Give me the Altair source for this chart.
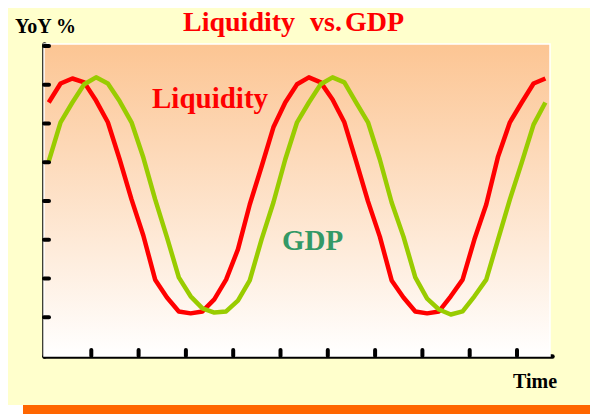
import altair as alt
import pandas as pd

# Time samples (x axis, tick unit = 1)
time = [0.1, 0.35, 0.6, 0.85, 1.1, 1.35, 1.6, 1.85, 2.1, 2.35, 2.6, 2.85, 3.1, 3.35,
        3.6, 3.85, 4.1, 4.35, 4.6, 4.85, 5.1, 5.35, 5.6, 5.85, 6.1, 6.35, 6.6, 6.85,
        7.1, 7.35, 7.6, 7.85, 8.1, 8.35, 8.6, 8.85, 9.1, 9.35, 9.6, 9.85, 10.1, 10.35, 10.6]

liquidity = [6.54, 7.03, 7.16, 7.06, 6.59, 6.03, 5.07, 4.04, 3.11, 1.97, 1.51, 1.15, 1.10, 1.15,
             1.46, 1.97, 2.75, 3.91, 4.89, 5.90, 6.54, 7.01, 7.19, 7.06, 6.62, 6.03, 5.02, 3.99,
             3.08, 1.95, 1.51, 1.15, 1.10, 1.15, 1.54, 1.97, 3.01, 3.91, 5.15, 6.03, 6.54, 7.03, 7.16]

gdp = [5.02, 6.03, 6.54, 7.01, 7.19, 7.03, 6.57, 6.03, 5.12, 4.04, 3.06, 2.03, 1.54, 1.23,
       1.12, 1.15, 1.43, 1.95, 3.01, 3.96, 5.07, 6.03, 6.54, 7.01, 7.19, 7.06, 6.54, 6.03,
       5.07, 3.96, 3.08, 2.03, 1.48, 1.20, 1.07, 1.15, 1.54, 1.97, 3.01, 4.04, 4.99, 5.97, 6.54]

series_names = ["Liquidity", "GDP"]
series_colors = ["#FF0000", "#99CC00"]

x_ticks = [1, 2, 3, 4, 5, 6, 7, 8, 9, 10]
y_ticks = [1, 2, 3, 4, 5, 6, 7, 8]

W, H = 508, 312

n = len(time)
df = pd.DataFrame({
    "t": time + time,
    "v": liquidity + gdp,
    "series": ["Liquidity"] * n + ["GDP"] * n,
})
one = pd.DataFrame({"a": [0]})

x_scale = alt.Scale(domain=[0, 10.74], nice=False, zero=False)
y_scale = alt.Scale(domain=[0, 8.05], nice=False, zero=False)


def ax():
    return alt.Axis(domain=True, domainWidth=4.5, domainColor="black", domainCap="round",
                    ticks=False, labels=False, grid=False, title=None)


bg = alt.Chart(one).mark_rect(
    fill=alt.LinearGradient(
        gradient="linear",
        stops=[alt.GradientStop(color="#FCC593", offset=0),
               alt.GradientStop(color="#FFFFFF", offset=1)],
        x1=0, x2=0, y1=0, y2=1),
    stroke="white", strokeWidth=1.5,
).encode(x=alt.value(0), x2=alt.value(506), y=alt.value(0), y2=alt.value(H))

lines = alt.Chart(df).mark_line(strokeWidth=4.5, strokeJoin="round").encode(
    x=alt.X("t:Q", scale=x_scale, axis=ax()),
    y=alt.Y("v:Q", scale=y_scale, axis=ax()),
    color=alt.Color("series:N", scale=alt.Scale(domain=series_names, range=series_colors), legend=None),
)

yt = alt.Chart(pd.DataFrame({"yt": y_ticks})).mark_rule(
    strokeWidth=4, strokeCap="round", color="black"
).encode(y=alt.Y("yt:Q", scale=y_scale, axis=ax()), x=alt.value(0), x2=alt.value(5))

xt = alt.Chart(pd.DataFrame({"xt": x_ticks})).mark_rule(
    strokeWidth=4, strokeCap="round", color="black"
).encode(x=alt.X("xt:Q", scale=x_scale, axis=ax()), y=alt.value(H), y2=alt.value(H - 6))


def label(text, x, y, size, color):
    return alt.Chart(one).mark_text(
        text=text, font="Liberation Serif", fontWeight="bold", fontSize=size,
        color=color, align="left", baseline="alphabetic",
    ).encode(x=alt.value(x), y=alt.value(y))


texts = [
    label("Liquidity", 139, -13, 28, "#FF0000"),
    label("vs.", 266, -13, 28, "#FF0000"),
    label("GDP", 301, -13, 28, "#FF0000"),
    label("YoY %", -29, -11, 20, "black"),
    label("Liquidity", 108, 64, 29, "#FF0000"),
    label("GDP", 238, 206, 29, "#339966"),
    label("Time", 469, 344, 20, "black"),
]

orange = alt.Chart(one).mark_rect(color="#FF6600").encode(
    x=alt.value(-21), x2=alt.value(560), y=alt.value(361), y2=alt.value(385))
white = alt.Chart(one).mark_rect(color="#FFFFFF").encode(
    x=alt.value(-40), x2=alt.value(-21), y=alt.value(361), y2=alt.value(385))

chart = alt.layer(bg, lines, yt, xt, orange, white, *texts).properties(
    width=W, height=H,
    padding={"left": 36, "top": 36, "right": 38, "bottom": 58},
    autosize=alt.AutoSizeParams(type="none"),
    background="#FFFFCC",
).configure_view(stroke=None)

chart.save("out.html", embed_options={"renderer": "svg", "actions": False})
